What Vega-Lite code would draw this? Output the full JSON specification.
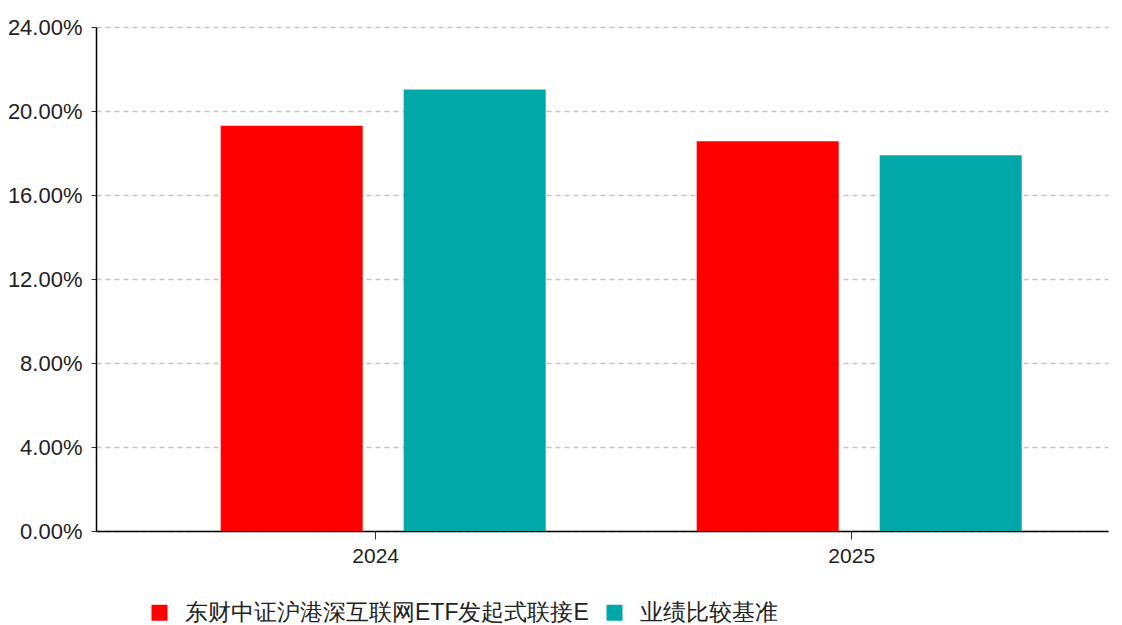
{
  "$schema": "https://vega.github.io/schema/vega-lite/v6.json",
  "autosize": {"type": "none"},
  "width": 1012,
  "height": 504,
  "padding": {"left": 96, "top": 27, "right": 14, "bottom": 94},
  "background": "white",
  "data": {
    "values": [
      {"year": "2024", "series": "东财中证沪港深互联网ETF发起式联接E", "value": 0.1930},
      {"year": "2024", "series": "业绩比较基准", "value": 0.2102},
      {"year": "2025", "series": "东财中证沪港深互联网ETF发起式联接E", "value": 0.1856},
      {"year": "2025", "series": "业绩比较基准", "value": 0.1789}
    ]
  },
  "config": {
    "font": "Liberation Sans",
    "view": {"stroke": null}
  },
  "mark": {"type": "bar"},
  "encoding": {
    "x": {
      "field": "year",
      "type": "nominal",
      "scale": {"paddingInner": 0, "paddingOuter": 0.063, "align": 0.82},
      "axis": {
        "title": null,
        "labelAngle": 0,
        "labelFontSize": 21,
        "labelColor": "#222222",
        "labelPadding": 6,
        "domainColor": "#000000",
        "domainWidth": 1.5,
        "tickColor": "#333333",
        "tickSize": 8,
        "tickOffset": -8,
        "grid": false
      }
    },
    "xOffset": {
      "field": "series",
      "type": "nominal",
      "scale": {"domain": ["东财中证沪港深互联网ETF发起式联接E", "业绩比较基准"], "paddingInner": 0.224, "paddingOuter": 0.4125}
    },
    "y": {
      "field": "value",
      "type": "quantitative",
      "scale": {"domain": [0, 0.24], "nice": false},
      "axis": {
        "title": null,
        "format": ".2%",
        "values": [0, 0.04, 0.08, 0.12, 0.16, 0.2, 0.24],
        "labelFontSize": 22,
        "labelColor": "#222222",
        "labelPadding": 9,
        "domainColor": "#000000",
        "domainWidth": 1.5,
        "tickColor": "#333333",
        "tickSize": 5,
        "grid": true,
        "gridColor": "#c4c4c4",
        "gridDash": [5, 4],
        "gridWidth": 1.3
      }
    },
    "color": {
      "field": "series",
      "type": "nominal",
      "scale": {"domain": ["东财中证沪港深互联网ETF发起式联接E", "业绩比较基准"], "range": ["#FF0000", "#00A8A8"]},
      "legend": {
        "title": null,
        "orient": "none",
        "direction": "horizontal",
        "legendX": 52,
        "legendY": 574,
        "symbolType": "square",
        "symbolSize": 256,
        "symbolStrokeWidth": 0,
        "labelFontSize": 23,
        "labelColor": "#222222",
        "labelOffset": 14,
        "columnPadding": 14,
        "labelLimit": 600
      }
    }
  }
}
